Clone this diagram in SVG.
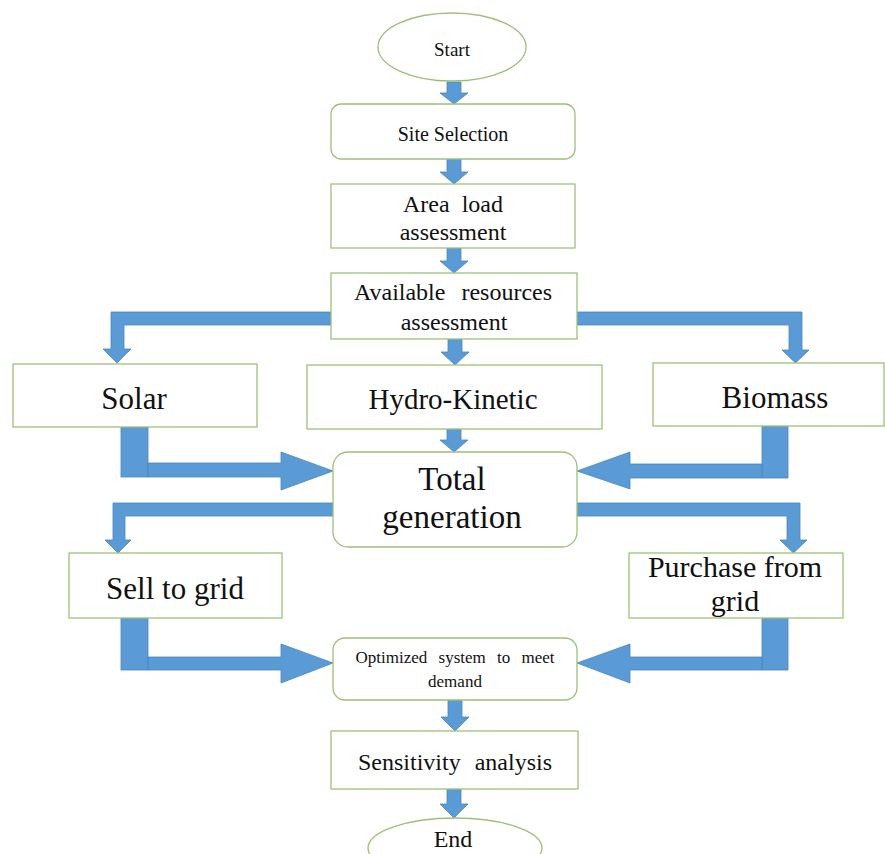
<svg xmlns="http://www.w3.org/2000/svg" width="885" height="854" viewBox="0 0 885 854">
<style>
.box{fill:#fff;stroke:#9cc07a;stroke-width:1.3}
.arr{fill:#5b9bd5;stroke:#4a85bd;stroke-width:0.8}
text{font-family:"Liberation Serif","Times New Roman",serif;fill:#111;text-anchor:middle}
</style>
<rect width="885" height="854" fill="#fff"/>
<g id="connectors">
<polygon class="arr" points="447,82 461,82 461,93 468,93 454,104 440,93 447,93"/>
<polygon class="arr" points="447,159 461,159 461,172 468,172 454,184 440,172 447,172"/>
<polygon class="arr" points="447,248 461,248 461,261 468,261 454,273 440,261 447,261"/>
<polygon class="arr" points="448,339 462,339 462,352 469,352 455,365 441,352 448,352"/>
<polygon class="arr" points="447,429 461,429 461,440 468,440 454,452 440,440 447,440"/>
<polygon class="arr" points="448,700 462,700 462,717 469,717 455,731 441,717 448,717"/>
<polygon class="arr" points="447,789 461,789 461,804 468,804 454,818 440,804 447,804"/>
<polygon class="arr" points="331,312 111,312 111,349 103,349 117,363 131,349 124,349 124,325 331,325"/>
<polygon class="arr" points="577,312 802,312 802,350 809,350 795.5,363 782,350 789,350 789,325 577,325"/>
<polygon class="arr" points="333,503 113,503 113,540 105,540 118,553 131,540 125,540 125,516 333,516"/>
<polygon class="arr" points="577,503 800,503 800,540 807,540 793.5,553 780,540 787,540 787,516 577,516"/>
<rect class="arr" x="121" y="427" width="27" height="50"/>
<polygon class="arr" points="148,463 281,463 281,452 333,471 281,490 281,477 148,477"/>
<rect class="arr" x="762" y="426" width="26" height="52"/>
<polygon class="arr" points="762,464 630,464 630,452 577,471 630,489 630,478 762,478"/>
<rect class="arr" x="121" y="618" width="27" height="52"/>
<polygon class="arr" points="148,657 281,657 281,644 333,663 281,683 281,670 148,670"/>
<rect class="arr" x="762" y="618" width="26" height="52"/>
<polygon class="arr" points="762,657 630,657 630,644 577,663 630,683 630,670 762,670"/>
</g>
<g id="start"><ellipse class="box" cx="452" cy="47" rx="74" ry="34"/><text x="452" y="56" font-size="19">Start</text></g>
<g id="site"><rect class="box" x="331" y="104" width="244" height="55" rx="10"/><text x="453" y="141" font-size="20">Site Selection</text></g>
<g id="area"><rect class="box" x="331" y="184" width="244" height="64"/><text x="453" y="212" font-size="24" word-spacing="6">Area load</text><text x="453" y="240" font-size="24">assessment</text></g>
<g id="available"><rect class="box" x="331" y="273" width="246" height="66"/><text x="453" y="300" font-size="24" word-spacing="10">Available resources</text><text x="454" y="330" font-size="24">assessment</text></g>
<g id="solar"><rect class="box" x="13" y="364" width="244" height="63"/><text x="134" y="409" font-size="31">Solar</text></g>
<g id="hydro"><rect class="box" x="307" y="365" width="295" height="64"/><text x="453" y="409" font-size="29">Hydro-Kinetic</text></g>
<g id="biomass"><rect class="box" x="653" y="363" width="231" height="63"/><text x="775" y="408" font-size="31">Biomass</text></g>
<g id="total"><rect class="box" x="333" y="452" width="244" height="95" rx="15"/><text x="452" y="490" font-size="33">Total</text><text x="452" y="528" font-size="33">generation</text></g>
<g id="sell"><rect class="box" x="69" y="553" width="213" height="65"/><text x="175" y="599" font-size="31">Sell to grid</text></g>
<g id="purchase"><rect class="box" x="629" y="553" width="214" height="65"/><text x="735" y="577" font-size="30">Purchase from</text><text x="735" y="611" font-size="30">grid</text></g>
<g id="optimized"><rect class="box" x="333" y="638" width="244" height="62" rx="12"/><text x="455" y="663" font-size="17" word-spacing="7">Optimized system to meet</text><text x="455" y="687" font-size="17">demand</text></g>
<g id="sensitivity"><rect class="box" x="331" y="731" width="247" height="58"/><text x="455" y="770" font-size="24" word-spacing="8">Sensitivity analysis</text></g>
<g id="end"><ellipse class="box" cx="455" cy="848" rx="87" ry="30"/><text x="453" y="847" font-size="24">End</text></g>
</svg>
